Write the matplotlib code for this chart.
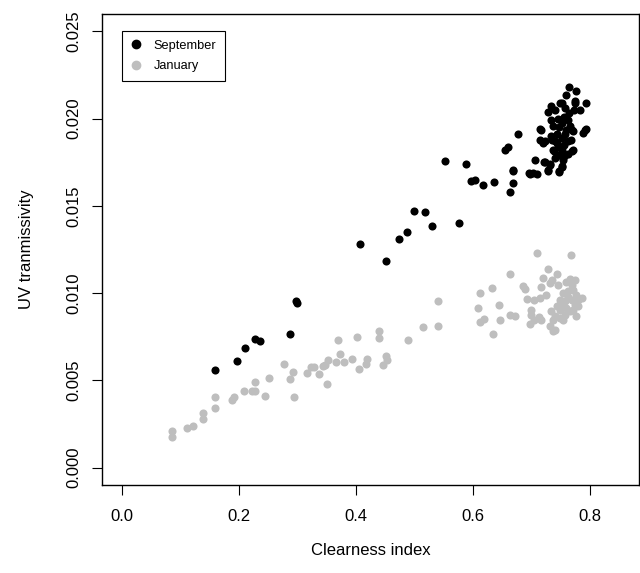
import matplotlib
matplotlib.use("Agg")
import matplotlib.pyplot as plt
from matplotlib.lines import Line2D

plt.rcParams['font.family'] = ['Liberation Sans', 'DejaVu Sans']

sep_x = [0.159, 0.197, 0.210, 0.227, 0.236, 0.288, 0.297, 0.299, 0.407, 0.452,
         0.474, 0.487, 0.500, 0.518, 0.530, 0.552, 0.577, 0.589, 0.596, 0.603,
         0.618, 0.636, 0.655, 0.660, 0.668, 0.669, 0.663, 0.678, 0.697, 0.709,
         0.707, 0.716, 0.721, 0.728, 0.732, 0.729, 0.724, 0.734, 0.747, 0.752,
         0.754, 0.757, 0.738, 0.733, 0.736, 0.743, 0.749, 0.760, 0.765, 0.777,
         0.773, 0.774, 0.783, 0.794, 0.770, 0.789, 0.793, 0.772, 0.734, 0.752,
         0.774, 0.715, 0.737, 0.752, 0.760, 0.772, 0.791, 0.720, 0.740, 0.752,
         0.763, 0.737, 0.752, 0.769, 0.740, 0.754, 0.723, 0.732, 0.752, 0.747,
         0.669, 0.696, 0.703, 0.729, 0.715, 0.745, 0.755, 0.762, 0.748, 0.758,
         0.765, 0.744, 0.756, 0.762, 0.748, 0.766, 0.741, 0.757, 0.768, 0.745]
sep_y = [0.00562, 0.00611, 0.00684, 0.00739, 0.00724, 0.00764, 0.00953, 0.00944, 0.01282, 0.01186,
         0.01311, 0.01349, 0.01473, 0.01463, 0.01387, 0.01755, 0.01402, 0.01742, 0.01645, 0.01649,
         0.01622, 0.01635, 0.01822, 0.01838, 0.01698, 0.01631, 0.01578, 0.01914, 0.01685, 0.01685,
         0.01765, 0.01937, 0.01750, 0.01698, 0.01742, 0.02036, 0.01870, 0.01994, 0.01692, 0.01727,
         0.01775, 0.01794, 0.01813, 0.01899, 0.01880, 0.01861, 0.02090, 0.02138, 0.02182, 0.02156,
         0.02052, 0.02090, 0.02052, 0.02090, 0.01937, 0.01918, 0.01941, 0.01822, 0.02070, 0.02090,
         0.02100, 0.01942, 0.01956, 0.01975, 0.01937, 0.01927, 0.01937, 0.01861, 0.01870, 0.01889,
         0.01870, 0.01822, 0.01822, 0.01813, 0.01775, 0.01765, 0.01750, 0.01736, 0.01723, 0.01698,
         0.01704, 0.01689, 0.01689, 0.01704, 0.01880, 0.02000, 0.02010, 0.01990, 0.01950, 0.01910,
         0.02030, 0.01910, 0.01850, 0.01800, 0.01790, 0.01960, 0.02050, 0.02060, 0.01880, 0.01840]

jan_x = [0.085, 0.085, 0.111, 0.121, 0.138, 0.138, 0.160, 0.160, 0.188, 0.192,
         0.209, 0.222, 0.227, 0.228, 0.245, 0.251, 0.277, 0.288, 0.293, 0.295,
         0.316, 0.324, 0.328, 0.337, 0.344, 0.347, 0.353, 0.350, 0.366, 0.370,
         0.373, 0.380, 0.394, 0.402, 0.405, 0.417, 0.419, 0.439, 0.440, 0.447,
         0.451, 0.453, 0.489, 0.515, 0.540, 0.540, 0.613, 0.609, 0.613, 0.619,
         0.632, 0.645, 0.646, 0.634, 0.663, 0.663, 0.672, 0.686, 0.689, 0.692,
         0.699, 0.700, 0.704, 0.704, 0.697, 0.710, 0.713, 0.715, 0.717, 0.717,
         0.720, 0.725, 0.729, 0.732, 0.732, 0.734, 0.736, 0.737, 0.737, 0.740,
         0.740, 0.743, 0.743, 0.746, 0.749, 0.749, 0.749, 0.754, 0.754, 0.757,
         0.760, 0.760, 0.763, 0.766, 0.766, 0.767, 0.769, 0.769, 0.772, 0.774,
         0.774, 0.777, 0.777, 0.780, 0.780, 0.786, 0.752, 0.762, 0.771, 0.758]
jan_y = [0.00208, 0.00174, 0.00224, 0.00241, 0.00313, 0.00281, 0.00405, 0.00342, 0.00386, 0.00405,
         0.00441, 0.00441, 0.00441, 0.00489, 0.00409, 0.00514, 0.00596, 0.00508, 0.00546, 0.00403,
         0.00543, 0.00577, 0.00577, 0.00539, 0.00580, 0.00590, 0.00619, 0.00481, 0.00603, 0.00734,
         0.00653, 0.00603, 0.00623, 0.00749, 0.00567, 0.00596, 0.00625, 0.00781, 0.00741, 0.00590,
         0.00638, 0.00619, 0.00734, 0.00808, 0.00957, 0.00814, 0.00999, 0.00913, 0.00835, 0.00852,
         0.01028, 0.00934, 0.00844, 0.00768, 0.01112, 0.00877, 0.00871, 0.01039, 0.01024, 0.00967,
         0.00905, 0.00877, 0.00848, 0.00963, 0.00825, 0.01230, 0.00864, 0.00972, 0.00848, 0.01033,
         0.01087, 0.00991, 0.01139, 0.01058, 0.00810, 0.00896, 0.01077, 0.00781, 0.00848, 0.00871,
         0.00791, 0.01112, 0.00924, 0.01049, 0.00963, 0.00905, 0.00858, 0.01001, 0.00848, 0.00953,
         0.01062, 0.00915, 0.01010, 0.01081, 0.00896, 0.01221, 0.01049, 0.00963, 0.01020, 0.01073,
         0.00934, 0.00991, 0.00867, 0.00963, 0.00924, 0.00972, 0.00940, 0.00980, 0.00905, 0.00875]

x_ticks = [0.0, 0.2, 0.4, 0.6, 0.8]
x_labels = ["0.0", "0.2", "0.4", "0.6", "0.8"]
y_ticks = [0.000, 0.005, 0.010, 0.015, 0.020, 0.025]
y_labels = ["0.000", "0.005", "0.010", "0.015", "0.020", "0.025"]
series_names = ["September", "January"]
colors = ["black", "#BEBEBE"]

W, H = 640, 573
fig = plt.figure(figsize=(W / 100, H / 100), dpi=100)
ax = fig.add_axes([102 / W, (H - 485) / H, 537 / W, 471 / H])

ms = 34
ax.scatter(sep_x, sep_y, s=ms, c=colors[0], linewidths=0, zorder=3)
ax.scatter(jan_x, jan_y, s=ms, c=colors[1], linewidths=0, zorder=2)

ax.set_xlim(-0.034, 0.884)
ax.set_ylim(-0.001, 0.026)

fs = 12
ax.set_xticks(x_ticks)
ax.set_xticklabels(x_labels, fontsize=fs)
ax.set_yticks(y_ticks)
ax.set_yticklabels(y_labels, fontsize=fs, rotation=90, va='center')
ax.tick_params(axis='x', direction='out', length=7, width=0.8, pad=10)
ax.tick_params(axis='y', direction='out', length=7, width=0.8, pad=8)

for sp in ax.spines.values():
    sp.set_linewidth(1.0)

ax.set_xlabel("Clearness index", fontsize=fs, labelpad=14)
ax.set_ylabel("UV tranmissivity", fontsize=fs, labelpad=23)

handles = [Line2D([], [], marker='o', linestyle='none', markersize=6,
                  markerfacecolor=c, markeredgecolor=c) for c in colors]
leg = ax.legend(handles, series_names, loc='upper left',
                bbox_to_anchor=(0.037, 0.964), fontsize=9.2,
                frameon=True, fancybox=False, edgecolor='black',
                framealpha=1, borderpad=0.7, handletextpad=1.0,
                labelspacing=0.65, borderaxespad=0, handlelength=0.8)
leg.get_frame().set_linewidth(0.8)

fig.savefig("out.png", dpi=100)
